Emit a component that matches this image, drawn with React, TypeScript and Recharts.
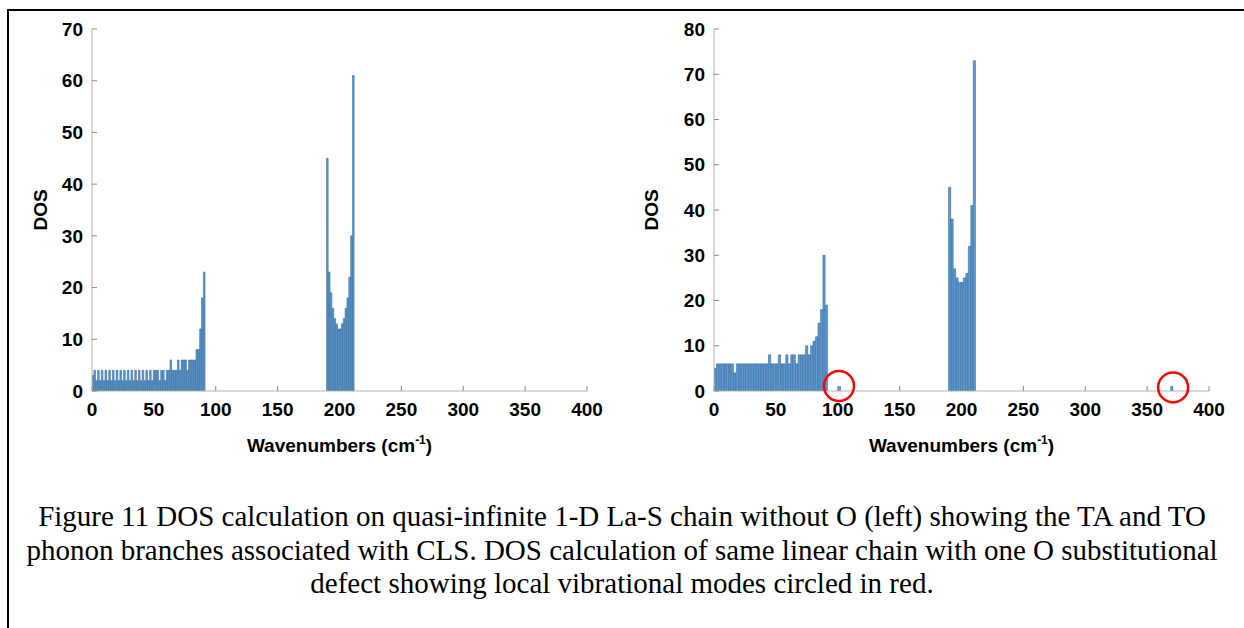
import React from 'react';
import { BarChart, Bar, XAxis, YAxis, ReferenceDot } from 'recharts';

// ---------- data ----------
const xTicks = [0, 50, 100, 150, 200, 250, 300, 350, 400];
const leftYTicks = [0, 10, 20, 30, 40, 50, 60, 70];
const rightYTicks = [0, 10, 20, 30, 40, 50, 60, 70, 80];

// Left panel: La-S chain without O (bin width 1.5 cm-1)
const leftBinWidth = 1.5;
const leftLowStart = 0;
const leftLowCounts = [
  3, 4, 2, 4, 2, 4, 2, 4, 2, 4, 2,
  4, 2, 4, 2, 4, 2, 4, 2, 4, 2,
  4, 2, 4, 2, 4, 2, 4, 2, 4, 2,
  4, 2, 4, 4, 4, 2, 4, 4, 2, 4, 4,
  6, 4, 4, 4, 6, 4, 6, 6, 6, 4,
  6, 6, 6, 6, 8, 8, 12, 18, 23,
];
const leftHighStart = 189.5;
const leftHighCounts = [45, 23, 19, 16, 14, 13, 12, 12, 13, 14, 16, 18, 22, 30, 61];

// Right panel: chain with one O substitutional defect (bin width 2 cm-1)
const rightBinWidth = 2;
const rightLowStart = 0;
const rightLowCounts = [
  5, 6, 6, 6, 6, 6, 6, 6, 4, 6,
  6, 6, 6, 6, 6, 6, 6, 6, 6, 6,
  6, 6, 8, 6, 6, 6, 8, 6, 6, 8,
  6, 8, 8, 6, 8, 8, 8, 10, 8, 10,
  11, 12, 15, 18, 30, 19,
];
const rightHighStart = 189.5;
const rightHighCounts = [45, 38, 27, 25, 24, 24, 25, 26, 32, 41, 73];
const rightModeCenters = [101.5, 370];
const rightModeCounts = [1, 1];
const circledModes = [
  { x: 101, y: 1.1 },
  { x: 371, y: 0.8 },
];

const captionLines = [
  'Figure 11 DOS calculation on quasi-infinite 1-D La-S chain without O (left) showing the TA and TO',
  'phonon branches associated with CLS. DOS calculation of same linear chain with one O substitutional',
  'defect showing local vibrational modes circled in red.',
];

// ---------- helpers ----------
type Pt = { x: number; dos: number };
const toBins = (start: number, width: number, counts: number[]): Pt[] =>
  counts.map((c, i) => ({ x: start + width * (i + 0.5), dos: c }));

const leftData: Pt[] = [
  ...toBins(leftLowStart, leftBinWidth, leftLowCounts),
  ...toBins(leftHighStart, leftBinWidth, leftHighCounts),
];
const rightData: Pt[] = [
  ...toBins(rightLowStart, rightBinWidth, rightLowCounts),
  ...toBins(rightHighStart, rightBinWidth, rightHighCounts),
  ...rightModeCenters.map((x, i) => ({ x, dos: rightModeCounts[i] })),
];

const FONT = '"Liberation Sans", Arial, Helvetica, sans-serif';
const FS = 19;
const BOX = '#b4b4b4';
const TICKC = '#8c8c8c';
const tickStyle = { fontFamily: FONT, fontWeight: 700, fontSize: FS, fill: '#000' };

const CHART_W = 622;
const CHART_H = 470;
const PLOT_TOP = 29;
const PLOT_BOTTOM = 391;
const PLOT_LEFT = 92;
const PLOT_RIGHT = 587;

type PanelProps = {
  data: Pt[];
  yMax: number;
  yTicks: number[];
  binWidth: number;
  dosOffset: number;
  circles?: { x: number; y: number }[];
};

const Panel = ({ data, yMax, yTicks, binWidth, dosOffset, circles = [] }: PanelProps) => {
  const plotW = PLOT_RIGHT - PLOT_LEFT;
  const barSize = (binWidth * plotW) / 400;
  const xLabel = (props: any) => {
    const vb = props.viewBox;
    return (
      <text
        x={vb.x + vb.width / 2}
        y={vb.y + 61}
        textAnchor="middle"
        fontFamily={FONT}
        fontWeight={700}
        fontSize={FS}
        fill="#000"
      >
        Wavenumbers (cm
        <tspan dy={-8} fontSize={12}>-1</tspan>
        <tspan dy={8}>)</tspan>
      </text>
    );
  };
  const yLabel = (props: any) => {
    const vb = props.viewBox;
    const cx = vb.x + vb.width - dosOffset;
    const cy = vb.y + vb.height / 2;
    return (
      <text
        x={cx}
        y={cy}
        transform={`rotate(-90, ${cx}, ${cy})`}
        textAnchor="middle"
        dominantBaseline="central"
        fontFamily={FONT}
        fontWeight={700}
        fontSize={FS}
        fill="#000"
      >
        DOS
      </text>
    );
  };
  return (
    <BarChart
      width={CHART_W}
      height={CHART_H}
      data={data}
      barCategoryGap={0}
      barGap={0}
      margin={{
        top: PLOT_TOP,
        right: CHART_W - PLOT_RIGHT,
        left: PLOT_LEFT - 32,
        bottom: CHART_H - PLOT_BOTTOM - 30,
      }}
    >
      <XAxis
        xAxisId="b"
        dataKey="x"
        type="number"
        domain={[0, 400]}
        ticks={xTicks}
        allowDataOverflow
        height={30}
        axisLine={{ stroke: BOX }}
        tickLine={{ stroke: TICKC }}
        tickSize={-5}
        tickMargin={17}
        tick={tickStyle}
        label={xLabel}
      />
      <XAxis
        xAxisId="t"
        orientation="top"
        dataKey="x"
        type="number"
        domain={[0, 400]}
        ticks={xTicks}
        allowDataOverflow
        height={0}
        axisLine={{ stroke: BOX }}
        tickLine={{ stroke: TICKC }}
        tickSize={-5}
        tickFormatter={() => ''}
      />
      <YAxis
        yAxisId="l"
        type="number"
        domain={[0, yMax]}
        ticks={yTicks}
        allowDataOverflow
        width={32}
        axisLine={{ stroke: BOX }}
        tickLine={{ stroke: TICKC }}
        tickSize={-5}
        tickMargin={14}
        tick={tickStyle}
        label={yLabel}
      />
      <YAxis
        yAxisId="r"
        orientation="right"
        type="number"
        domain={[0, yMax]}
        ticks={yTicks}
        allowDataOverflow
        width={0}
        axisLine={{ stroke: BOX }}
        tickLine={{ stroke: TICKC }}
        tickSize={-5}
        tickFormatter={() => ''}
      />
      <Bar
        xAxisId="b"
        yAxisId="l"
        dataKey="dos"
        barSize={barSize}
        fill="#5b9bd5"
        stroke="#2c5d88"
        strokeWidth={0.5}
        isAnimationActive={false}
      />
      {circles.map((c, i) => (
        <ReferenceDot
          key={i}
          xAxisId="b"
          yAxisId="l"
          x={c.x}
          y={c.y}
          r={15}
          fill="none"
          stroke="#ff0000"
          strokeWidth={2.5}
          ifOverflow="visible"
        />
      ))}
    </BarChart>
  );
};

export default function App() {
  return (
    <div
      style={{
        position: 'absolute',
        left: 0,
        top: 0,
        width: 1244,
        height: 628,
        background: '#fff',
        overflow: 'hidden',
      }}
    >
      <div style={{ position: 'absolute', left: 7, top: 9, width: 1237, height: 2, background: '#000' }} />
      <div style={{ position: 'absolute', left: 7, top: 9, width: 2, height: 619, background: '#000' }} />
      <div style={{ position: 'absolute', left: 0, top: 0 }}>
        <Panel data={leftData} yMax={70} yTicks={leftYTicks} binWidth={leftBinWidth} dosOffset={52} />
      </div>
      <div style={{ position: 'absolute', left: 622, top: 0 }}>
        <Panel
          data={rightData}
          yMax={80}
          yTicks={rightYTicks}
          binWidth={rightBinWidth}
          dosOffset={63}
          circles={circledModes}
        />
      </div>
      <div
        style={{
          position: 'absolute',
          left: 0,
          top: 500,
          width: 1244,
          textAlign: 'center',
          fontFamily: '"Liberation Serif", "Times New Roman", serif',
          fontSize: 29,
          lineHeight: '33.5px',
          color: '#000',
        }}
      >
        {captionLines.map((l, i) => (
          <div key={i} style={{ whiteSpace: 'nowrap' }}>{l}</div>
        ))}
      </div>
    </div>
  );
}
